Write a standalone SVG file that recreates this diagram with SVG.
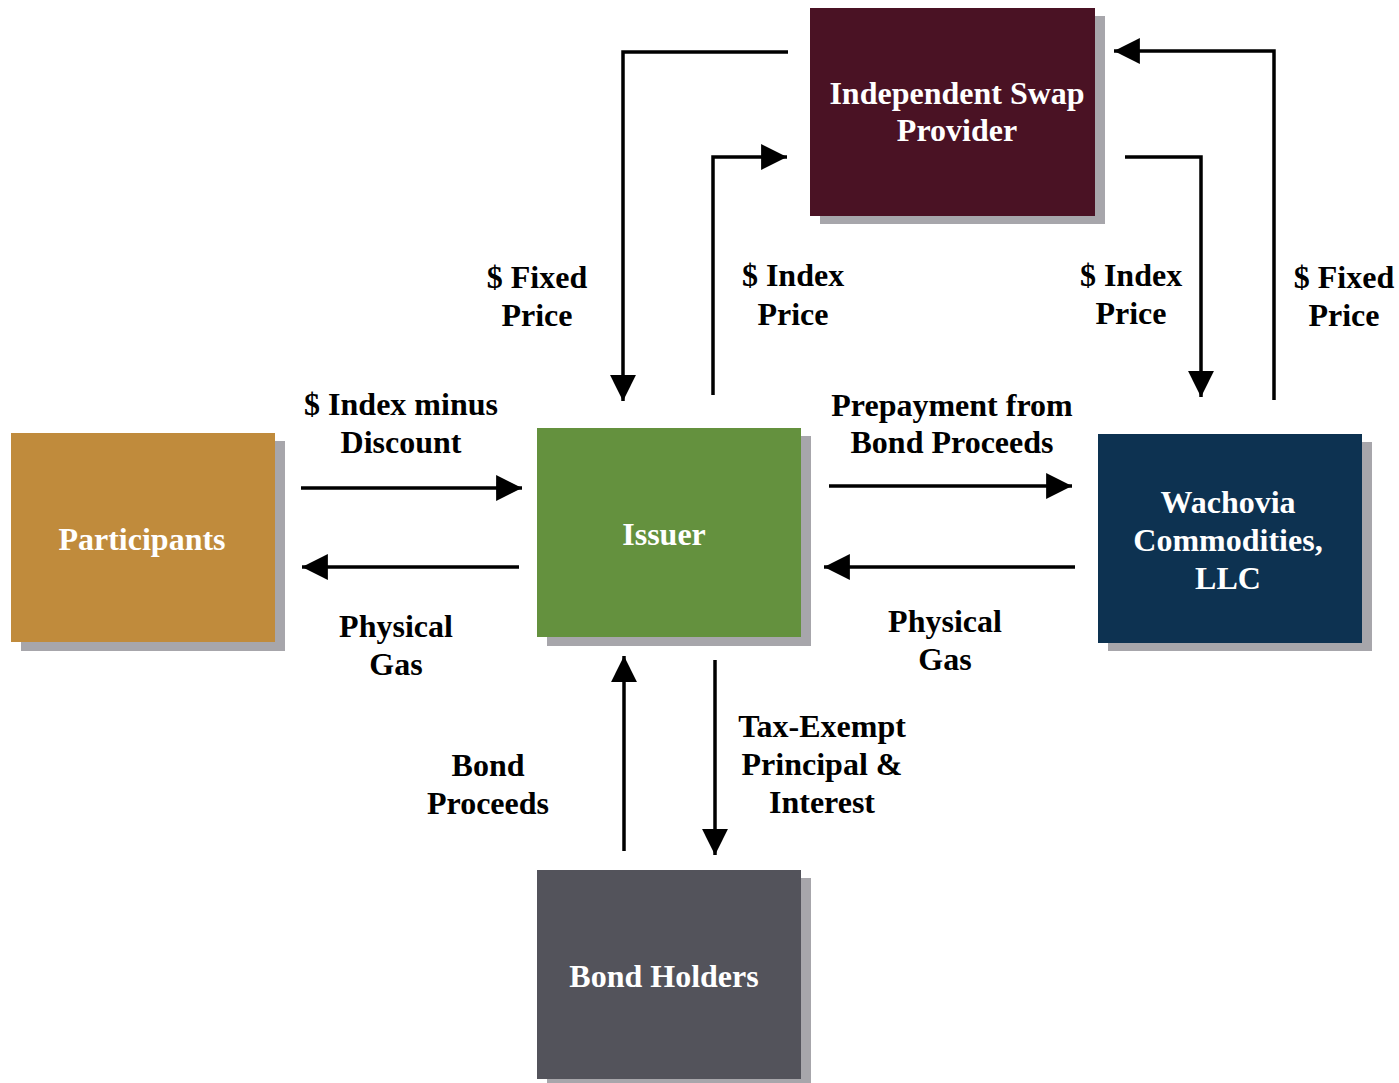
<svg xmlns="http://www.w3.org/2000/svg" width="1399" height="1083" viewBox="0 0 1399 1083">
<defs>
<style>
.sh{fill:#a7a6ab}
.lbl{font-family:"Liberation Serif","Times New Roman",serif;font-weight:bold;font-size:32px;fill:#000;text-anchor:middle}
.nt{font-family:"Liberation Serif","Times New Roman",serif;font-weight:bold;font-size:32px;fill:#fff;text-anchor:middle}
.ln{fill:none;stroke:#000;stroke-width:3.5;marker-end:url(#ah)}
</style>
<marker id="ah" viewBox="0 0 10 10" refX="10" refY="5" markerWidth="7.4" markerHeight="7.6" markerUnits="strokeWidth" orient="auto">
<path d="M0,0 L10,5 L0,10 Z" fill="#000"/>
</marker>
</defs>
<rect width="1399" height="1083" fill="#fff"/>
<g id="connectors">
<path class="ln" d="M788,52 H623 V401"/>
<path class="ln" d="M713,395 V157 H787"/>
<path class="ln" d="M1125,157 H1201 V397"/>
<path class="ln" d="M1274,400 V51 H1114"/>
<path class="ln" d="M301,488 H522"/>
<path class="ln" d="M519,567 H302"/>
<path class="ln" d="M829,486 H1072"/>
<path class="ln" d="M1075,567 H824"/>
<path class="ln" d="M624,851 V656"/>
<path class="ln" d="M715,660 V855"/>
</g>
<g id="labels">
<text class="lbl" x="537" y="288">$ Fixed</text>
<text class="lbl" x="537" y="326">Price</text>
<text class="lbl" x="793" y="286">$ Index</text>
<text class="lbl" x="793" y="325">Price</text>
<text class="lbl" x="1131" y="286">$ Index</text>
<text class="lbl" x="1131" y="324">Price</text>
<text class="lbl" x="1344" y="288">$ Fixed</text>
<text class="lbl" x="1344" y="326">Price</text>
<text class="lbl" x="401" y="415">$ Index minus</text>
<text class="lbl" x="401" y="453">Discount</text>
<text class="lbl" x="396" y="637">Physical</text>
<text class="lbl" x="396" y="675">Gas</text>
<text class="lbl" x="952" y="416">Prepayment from</text>
<text class="lbl" x="952" y="453">Bond Proceeds</text>
<text class="lbl" x="945" y="632">Physical</text>
<text class="lbl" x="945" y="670">Gas</text>
<text class="lbl" x="488" y="776">Bond</text>
<text class="lbl" x="488" y="814">Proceeds</text>
<text class="lbl" x="822" y="737">Tax-Exempt</text>
<text class="lbl" x="822" y="775">Principal &amp;</text>
<text class="lbl" x="822" y="813">Interest</text>
</g>
<g id="isp">
<rect class="sh" x="820" y="16" width="285" height="208"/>
<rect x="810" y="8" width="285" height="208" fill="#4a1224"/>
<text class="nt" x="957" y="104">Independent Swap</text>
<text class="nt" x="957" y="141">Provider</text>
</g>
<g id="participants">
<rect class="sh" x="21" y="441" width="264" height="210"/>
<rect x="11" y="433" width="264" height="209" fill="#c08b3c"/>
<text class="nt" x="142" y="550">Participants</text>
</g>
<g id="issuer">
<rect class="sh" x="547" y="436" width="264" height="210"/>
<rect x="537" y="428" width="264" height="209" fill="#64913e"/>
<text class="nt" x="664" y="545">Issuer</text>
</g>
<g id="wachovia">
<rect class="sh" x="1108" y="442" width="264" height="209"/>
<rect x="1098" y="434" width="264" height="209" fill="#0d3251"/>
<text class="nt" x="1228" y="513">Wachovia</text>
<text class="nt" x="1228" y="551">Commodities,</text>
<text class="nt" x="1228" y="589">LLC</text>
</g>
<g id="bondholders">
<rect class="sh" x="547" y="878" width="264" height="210"/>
<rect x="537" y="870" width="264" height="209" fill="#53535b"/>
<text class="nt" x="664" y="987">Bond Holders</text>
</g>
</svg>
